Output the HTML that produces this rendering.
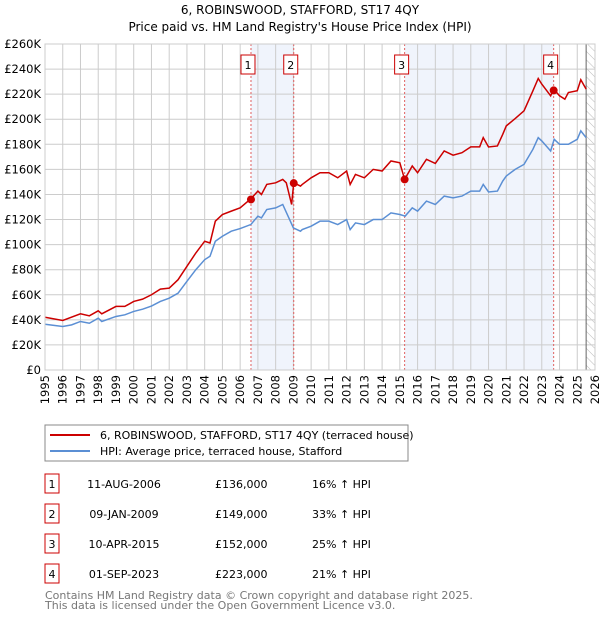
<!DOCTYPE html>
<html><head><meta charset="utf-8">
<style>
body{margin:0;background:#fff;font-family:"DejaVu Sans","Liberation Sans",sans-serif;}
#wrap{position:relative;width:600px;height:620px;overflow:hidden;}
svg text{font-family:"DejaVu Sans","Liberation Sans",sans-serif;}
</style></head>
<body><div id="wrap">
<svg id="chart" width="600" height="620">
<text x="300" y="14" text-anchor="middle" font-size="12" fill="#000">6, ROBINSWOOD, STAFFORD, ST17 4QY</text>
<text x="300" y="31" text-anchor="middle" font-size="12" fill="#000">Price paid vs. HM Land Registry's House Price Index (HPI)</text>
<defs><pattern id="hatch" width="6" height="6" patternUnits="userSpaceOnUse" patternTransform="rotate(-45)"><line x1="0" y1="0" x2="0" y2="6" stroke="#bbb" stroke-width="1"/></pattern></defs>
<g id="plot"></g>
<rect x="45" y="425" width="363" height="36" fill="#fff" stroke="#888"/>
<line x1="50" y1="435" x2="90" y2="435" stroke="#cc0000" stroke-width="2"/>
<text x="100" y="439" font-size="11">6, ROBINSWOOD, STAFFORD, ST17 4QY (terraced house)</text>
<line x1="50" y1="451" x2="90" y2="451" stroke="#5b8fd4" stroke-width="2"/>
<text x="100" y="455" font-size="11">HPI: Average price, terraced house, Stafford</text>
<g id="table" font-size="11"></g>
<text x="45" y="599" font-size="11" fill="#777">Contains HM Land Registry data © Crown copyright and database right 2025.</text>
<text x="45" y="609" font-size="11" fill="#777">This data is licensed under the Open Government Licence v3.0.</text>
</svg></div>
<script>
const hpiYears=[1995,1996,1996.5,1997,1997.5,1998,1998.2,1999,1999.5,2000,2000.5,2001,2001.5,2002,2002.5,2003,2003.5,2004,2004.3,2004.6,2005,2005.5,2006,2006.6,2007,2007.2,2007.5,2008,2008.4,2008.7,2009,2009.4,2009.5,2010,2010.5,2011,2011.5,2012,2012.2,2012.5,2013,2013.5,2014,2014.5,2015,2015.3,2015.7,2016,2016.5,2017,2017.5,2018,2018.5,2019,2019.5,2019.7,2020,2020.5,2020.8,2021,2021.5,2022,2022.5,2022.8,2023,2023.5,2023.7,2024,2024.5,2025,2025.2,2025.5];
const hpiValues=[36.5,34.7,36,38.7,37.3,41.3,38.7,42.7,44,46.7,48.5,51,54.7,57.3,61.3,70.7,80,88,90.7,102.7,106.7,110.7,112.8,116,122.7,121.3,128,129.3,132,122.7,113.3,110.7,112,114.7,118.7,118.7,116,120,112,117.3,116,120,120,125.3,124,122.7,129.3,126.7,134.7,132,138.7,137.3,138.7,142.7,142.7,148,142,142.7,150.7,154.7,160,164,176,185.3,182.7,174.7,184,180,180,184,190.7,185.3];
const propYears=[1995,1996,1997,1997.5,1998,1998.2,1999,1999.5,2000,2000.5,2001,2001.5,2002,2002.5,2003,2003.5,2004,2004.3,2004.6,2005,2005.5,2006,2006.6,2007,2007.2,2007.5,2008,2008.4,2008.6,2008.9,2009.02,2009.4,2009.5,2010,2010.5,2011,2011.5,2012,2012.2,2012.5,2013,2013.5,2014,2014.5,2015,2015.27,2015.7,2016,2016.5,2017,2017.5,2018,2018.5,2019,2019.5,2019.7,2020,2020.5,2020.8,2021,2021.5,2022,2022.5,2022.8,2023,2023.5,2023.67,2024,2024.3,2024.5,2025,2025.2,2025.5];
const propValues=[42.1,39.5,44.8,43.2,47.2,44.8,50.7,50.7,54.7,56.5,60,64.5,65.3,72,82.7,93.3,102.7,101.3,118.7,124,126.7,129.3,136.5,142.7,140,148,149.3,152,149.3,132,149.3,146.7,148,153.3,157.3,157.3,153.3,158.7,148,156,153.3,160,158.7,166.7,165.3,152,162.7,157.3,168,164.7,174.7,171.3,173.3,178,178,185.3,177.9,178.7,188,194.7,200.5,206.7,222.7,232.5,228,218.7,224,218.7,216,221.3,222.7,231.5,224];
const saleYears=[2006.61,2009.02,2015.27,2023.67];
const salePrices=[136,149,152,223];
const saleDates=["11-AUG-2006","09-JAN-2009","10-APR-2015","01-SEP-2023"];
const salePriceLabels=["£136,000","£149,000","£152,000","£223,000"];
const saleHpiLabels=["16% ↑ HPI","33% ↑ HPI","25% ↑ HPI","21% ↑ HPI"];
const yTicks=[0,20,40,60,80,100,120,140,160,180,200,220,240,260];
const xTicks=[1995,1996,1997,1998,1999,2000,2001,2002,2003,2004,2005,2006,2007,2008,2009,2010,2011,2012,2013,2014,2015,2016,2017,2018,2019,2020,2021,2022,2023,2024,2025,2026];
const X0=45,X1=595,Y0=370,Y1=44;
const xs=y=>X0+(y-1995)/(2026-1995)*(X1-X0);
const ys=v=>Y0-v/260*(Y0-Y1);
const NS="http://www.w3.org/2000/svg";
const plot=document.getElementById('plot');
function mk(tag,attrs,parent){const e=document.createElementNS(NS,tag);for(const k in attrs)e.setAttribute(k,attrs[k]);(parent||plot).appendChild(e);return e;}
let r;
r=mk('rect',{x:xs(saleYears[0]),y:Y1,width:xs(saleYears[1])-xs(saleYears[0]),height:Y0-Y1,fill:'#f0f4fc'});


r=mk('rect',{x:xs(saleYears[2]),y:Y1,width:xs(saleYears[3])-xs(saleYears[2]),height:Y0-Y1,fill:'#f0f4fc'});


r=mk('rect',{x:xs(2025.5),y:Y1,width:X1-xs(2025.5),height:Y0-Y1,fill:'url(#hatch)'});


yTicks.forEach(v=>{
 const l=mk('line',{x1:X0,x2:X1,y1:ys(v),y2:ys(v),stroke:'#ccc','stroke-width':1});
 
 
 const t=mk('text',{x:X0-4,y:ys(v)+4,'text-anchor':'end','font-size':11.5});
 t.textContent=v===0?'£0':'£'+v+'K';
 
 
});
xTicks.forEach(y=>{
 const l=mk('line',{x1:xs(y),x2:xs(y),y1:Y1,y2:Y0,stroke:'#ccc','stroke-width':1});
 
 
 const t=mk('text',{x:0,y:0,'text-anchor':'end','font-size':11.5,transform:`translate(${xs(y)+4},${Y0+5}) rotate(-90)`});
 t.textContent=y;
 
 
});
const fl=mk('line',{x1:xs(2025.5),x2:xs(2025.5),y1:Y1,y2:Y0,stroke:'#666','stroke-width':1});


saleYears.forEach((y,i)=>{
 const l=mk('line',{x1:xs(y),x2:xs(y),y1:Y1,y2:Y0,stroke:'#e06060','stroke-width':1,'stroke-dasharray':'2,2'});
 
 
 const b=mk('rect',{x:xs(y)-10,y:55,width:14,height:19,fill:'#fff',stroke:'#cc0000'});
 
 
 const t=mk('text',{x:xs(y)-3,y:69,'text-anchor':'middle','font-size':11});
 t.textContent=i+1;
 
 
});
const hp=mk('polyline',{points:hpiYears.map((y,i)=>xs(y)+','+ys(hpiValues[i])).join(' '),fill:'none',stroke:'#5b8fd4','stroke-width':1.5});


const pp=mk('polyline',{points:propYears.map((y,i)=>xs(y)+','+ys(propValues[i])).join(' '),fill:'none',stroke:'#cc0000','stroke-width':1.5});


saleYears.forEach((y,i)=>{
 const c=mk('circle',{cx:xs(y),cy:ys(salePrices[i]),r:4,fill:'#cc0000'});
 
 
});
const ax=mk('rect',{x:X0,y:Y1,width:X1-X0,height:Y0-Y1,fill:'none',stroke:'#ccc'});


const tb=document.getElementById('table');
saleDates.forEach((d,i)=>{
 const y=486+i*30;
 const b=mk('rect',{x:45,y:y-12,width:14,height:19,fill:'#fff',stroke:'#cc0000'},tb);
 
 
 let t=mk('text',{x:52,y:y+2,'text-anchor':'middle'},tb);t.textContent=i+1;
 
 
 t=mk('text',{x:124,y:y+2,'text-anchor':'middle'},tb);t.textContent=d;
 
 
 t=mk('text',{x:215,y:y+2},tb);t.textContent=salePriceLabels[i];
 
 
 t=mk('text',{x:312,y:y+2},tb);t.textContent=saleHpiLabels[i];
 
 
});
</script>
</body></html>
